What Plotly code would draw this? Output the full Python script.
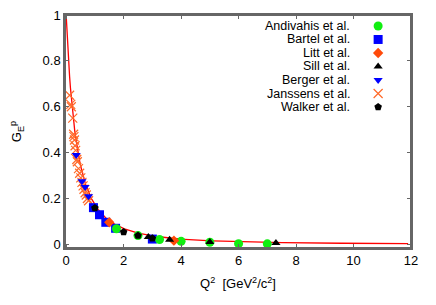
import numpy as np
import plotly.graph_objects as go

# ---- data ----
andivahis_q2 = [1.75, 2.5, 3.25, 4.0, 5.0, 6.0, 7.0]
andivahis_ge = [0.068, 0.038, 0.021, 0.013, 0.009, 0.003, 0.002]

bartel_q2 = [0.95, 1.16, 1.38, 1.72, 3.0]
bartel_ge = [0.160, 0.129, 0.096, 0.070, 0.023]

litt_q2 = [1.5, 3.75]
litt_ge = [0.096, 0.016]

sill_q2 = [2.86, 3.6, 5.0, 7.3]
sill_ge = [0.032, 0.020, 0.010, 0.006]

berger_q2 = [0.35, 0.55, 0.66, 0.78]
berger_ge = [0.39, 0.275, 0.25, 0.21]

janssens_q2 = [0.12, 0.16, 0.18, 0.23, 0.26, 0.27, 0.29, 0.31, 0.33, 0.37, 0.39,
               0.43, 0.47, 0.51, 0.55, 0.59, 0.62, 0.66, 0.70, 0.74, 0.78]
janssens_ge = [0.65, 0.61, 0.60, 0.55, 0.48, 0.47, 0.455, 0.43, 0.41, 0.37, 0.36,
               0.33, 0.31, 0.29, 0.27, 0.255, 0.24, 0.225, 0.215, 0.20, 0.19]

walker_q2 = [1.0, 2.0, 2.5, 3.0]
walker_ge = [0.158, 0.054, 0.038, 0.026]

# dipole fit curve G_E = (1 + Q^2 / 0.71)^-2
dipole_lambda2 = 0.71
curve_q2 = np.linspace(0, 11.9, 400)
curve_ge = 1.0 / (1.0 + curve_q2 / dipole_lambda2) ** 2

x_ticks = [0, 2, 4, 6, 8, 10, 12]
y_ticks = [0, 0.2, 0.4, 0.6, 0.8, 1]

FONT = "Liberation Sans, Arial, sans-serif"
GRAY = "#666666"
FS = 13
LEG_FS = 12.5
X_RANGE = [-0.04, 12]
Y_RANGE = [-0.016, 1]

series = [
    ("Andivahis et al.", andivahis_q2, andivahis_ge, dict(symbol="circle", color="#11ee11", size=9)),
    ("Bartel et al.", bartel_q2, bartel_ge, dict(symbol="square", color="#0000ff", size=9)),
    ("Litt et al.", litt_q2, litt_ge, dict(symbol="diamond", color="#ff4a0a", size=8)),
    ("Sill et al.", sill_q2, sill_ge, dict(symbol="triangle-up", color="#000000", size=8)),
    ("Berger et al.", berger_q2, berger_ge, dict(symbol="triangle-down", color="#0000ff", size=8)),
    ("Janssens et al.", janssens_q2, janssens_ge,
     dict(symbol="x-thin-open", color="#ff6a2a", size=9, line=dict(width=1.2, color="#ff6a2a"))),
    ("Walker et al.", walker_q2, walker_ge, dict(symbol="pentagon", color="#000000", size=8)),
]

fig = go.Figure()
fig.add_trace(go.Scatter(x=curve_q2, y=curve_ge, mode="lines",
                         line=dict(color="#ff0000", width=1.3), showlegend=False,
                         hoverinfo="skip"))

draw_order = [5, 4, 1, 0, 2, 3, 6]
for i in draw_order:
    name, xs, ys, mk = series[i]
    fig.add_trace(go.Scatter(x=xs, y=ys, mode="markers", name=name,
                             marker=mk, showlegend=False))


def frac_to_x(f):
    return X_RANGE[0] + f * (X_RANGE[1] - X_RANGE[0])


def frac_to_y(f):
    return Y_RANGE[0] + f * (Y_RANGE[1] - Y_RANGE[0])


# custom legend: text right-aligned, marker to the right
row_h = 0.058
top = 0.953
for k, (name, xs, ys, mk) in enumerate(series):
    yy = top - k * row_h
    fig.add_annotation(x=0.829, y=yy, xref="paper", yref="paper", text=name,
                       showarrow=False, xanchor="right", yanchor="middle",
                       font=dict(family=FONT, size=LEG_FS, color="#000000"))
    fig.add_trace(go.Scatter(x=[frac_to_x(0.905)], y=[frac_to_y(yy)], mode="markers",
                             marker=mk, showlegend=False, hoverinfo="skip"))

# full plot frame drawn over the axes domain
fig.add_shape(type="rect", xref="x domain", yref="y domain", x0=0, x1=1, y0=0, y1=1,
              line=dict(color=GRAY, width=2), fillcolor="rgba(0,0,0,0)", layer="above")

axis_common = dict(showline=True, linecolor=GRAY, linewidth=1.5, mirror="allticks",
                   ticks="inside", tickcolor=GRAY, ticklen=4, tickwidth=1,
                   showgrid=False, zeroline=False, automargin=False,
                   ticklabeloverflow="allow",
                   tickfont=dict(family=FONT, size=FS, color="#000000"))

fig.update_layout(
    width=428, height=297,
    margin=dict(l=57, r=25, t=7, b=57),
    paper_bgcolor="white", plot_bgcolor="white",
    font=dict(family=FONT, size=FS, color="#000000"),
    xaxis=dict(range=X_RANGE, tickvals=x_ticks, **axis_common,
               title=dict(text="Q<sup>2</sup>  [GeV<sup>2</sup>/c<sup>2</sup>]",
                          font=dict(family=FONT, size=FS), standoff=12)),
    yaxis=dict(range=Y_RANGE, tickvals=y_ticks, ticktext=["0", "0.2", "0.4", "0.6", "0.8", "1"],
               **axis_common,
               title=dict(text="G<sub>E</sub><sup>p</sup>", font=dict(family=FONT, size=FS),
                          standoff=20)),
    showlegend=False,
)

fig.write_html("out.html")
